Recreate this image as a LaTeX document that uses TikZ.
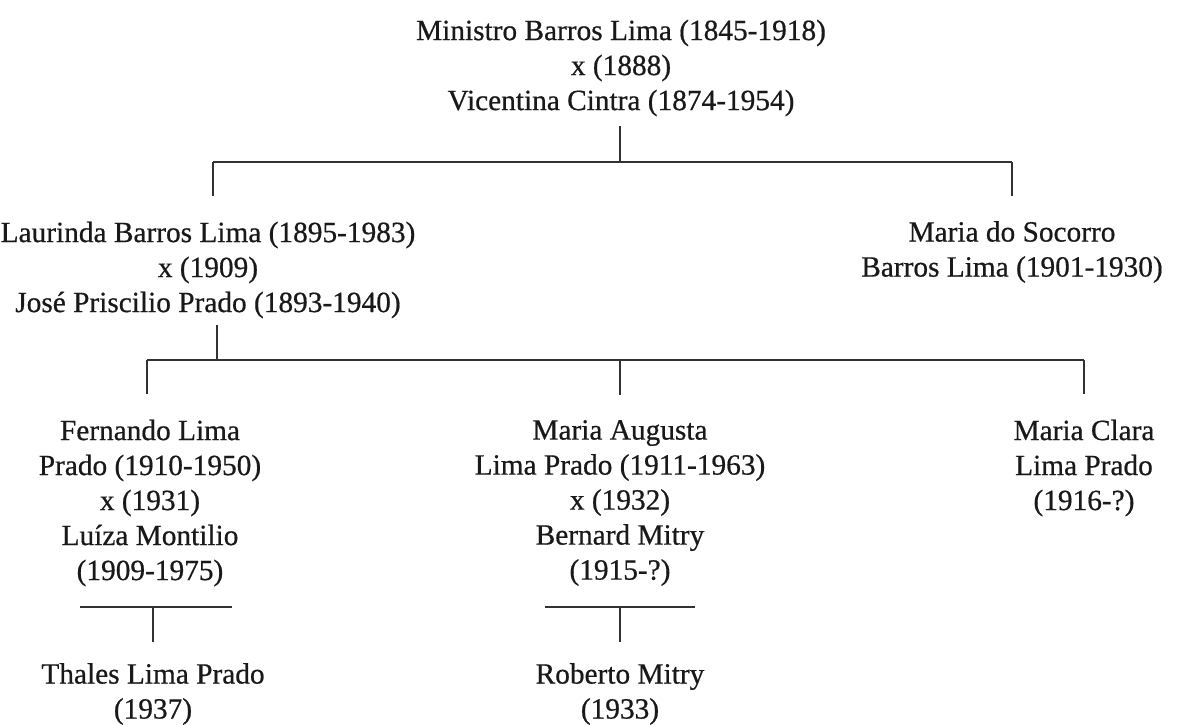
\documentclass[tikz,border=0pt]{standalone}
\usepackage{fontspec}
\setmainfont{Liberation Serif}
\usepackage{tikz}

\newcommand{\persfont}{\fontsize{22}{26.25}\selectfont\addfontfeatures{FakeBold=0.6}}
\definecolor{linegray}{RGB}{50,50,50}
\definecolor{textgray}{RGB}{25,25,25}

\tikzset{
  person/.style={inner sep=0pt, outer sep=0pt, align=center, font=\persfont, text=textgray},
  link/.style={line width=2pt, color=linegray},
  stub/.style={link, shorten >=19pt},
}

\begin{document}
\begin{tikzpicture}[x=0.75pt,y=0.75pt,yscale=-1,xscale=1]
\useasboundingbox (0,0) rectangle (1179,725);

% Text Node
\node [person] (mbl) at (621,68) {Ministro Barros Lima (1845-1918)\\x (1888)\\Vicentina Cintra (1874-1954)};
% Text Node
\node [person] (lbl) at (208,270) {Laurinda Barros Lima (1895-1983)\\x (1909)\\José Priscilio Prado (1893-1940)};
% Text Node
\node [person] (msb) at (1012,252) {Maria do Socorro\\Barros Lima (1901-1930)};
% Text Node
\node [person] (flp) at (150,503) {Fernando Lima\\Prado (1910-1950)\\x (1931)\\Luíza Montilio\\(1909-1975)};
% Text Node
\node [person] (mal) at (620,503) {Maria Augusta\\Lima Prado (1911-1963)\\x (1932)\\Bernard Mitry\\(1915-?)};
% Text Node
\node [person] (mcl) at (1084,468) {Maria Clara\\Lima Prado\\(1916-?)};
% Text Node
\node [person] (tlp) at (153,694) {Thales Lima Prado\\(1937)};
% Text Node
\node [person] (rmi) at (620,694) {Roberto Mitry\\(1933)};

%Bus Points
\coordinate (busA) at (620,162);
\coordinate (busAl) at (213,162);
\coordinate (busAr) at (1012,162);
\coordinate (busB) at (217,360);
\coordinate (busBl) at (147,360);
\coordinate (busBm) at (620,360);
\coordinate (busBr) at (1084,360);
\coordinate (marF) at (153,607);
\coordinate (marFl) at (80,607);
\coordinate (marFr) at (232,607);
\coordinate (marM) at (620,607);
\coordinate (marMl) at (545,607);
\coordinate (marMr) at (695,607);

%Straight Lines
\draw [link, shorten >=7pt] (busA) -- (busA |- mbl.south);
\draw [link] (busAl) -- (busAr);
\draw [stub] (busAl) -- (busAl |- lbl.north);
\draw [stub] (busAr) -- (busAr |- msb.north);
%Straight Lines
\draw [link, shorten >=5pt] (busB) -- (busB |- lbl.south);
\draw [link] (busBl) -- (busBr);
\draw [stub] (busBl) -- (busBl |- flp.north);
\draw [stub] (busBm) -- (busBm |- mal.north);
\draw [stub] (busBr) -- (busBr |- mcl.north);
%Straight Lines
\draw [link] (marFl) -- (marFr);
\draw [link, shorten >=16pt] (marF) -- (marF |- tlp.north);
\draw [link] (marMl) -- (marMr);
\draw [link, shorten >=16pt] (marM) -- (marM |- rmi.north);

\end{tikzpicture}
\end{document}
